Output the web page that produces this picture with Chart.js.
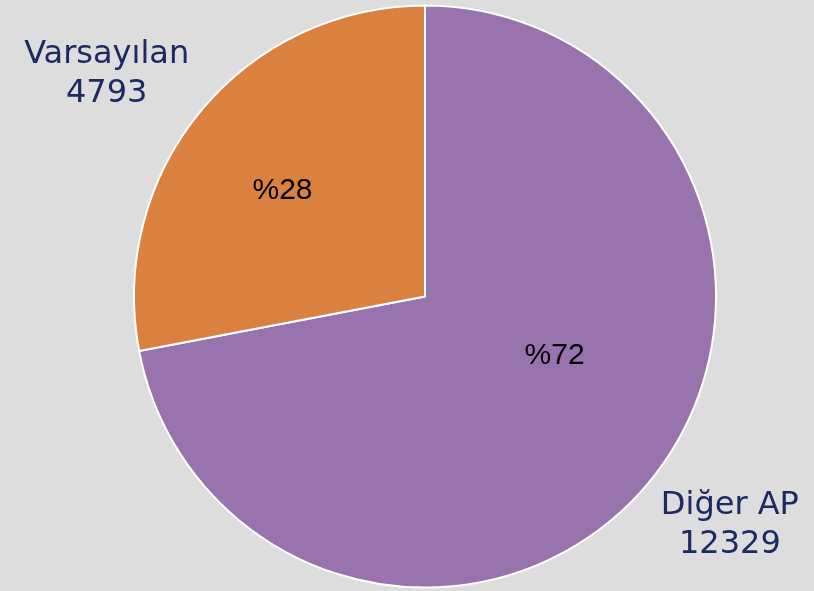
<!DOCTYPE html>
<html>
<head>
<meta charset="utf-8">
<script src="https://cdn.jsdelivr.net/npm/chart.js@4.4.1/dist/chart.umd.min.js"></script>
<style>
  html, body { margin: 0; padding: 0; background: #dddddd; }
  #wrap { width: 814px; height: 591px; position: relative; }
</style>
</head>
<body>
<div id="wrap"><canvas id="pie"></canvas></div>
<script>
const labels = ['Diğer AP', 'Varsayılan'];
const values = [12329, 4793];
const colors = ['#9873ae', '#db8140'];

// where the texts sit, relative to slice mid-angle and radius
const outerPos = [{ kx: 1.36, ky: 1.235, da: 0 }, { kx: 1.42, ky: 1.2, da: 0 }];
const innerPos = [{ k: 0.49, da: -15 }, { k: 0.61, da: -3 }];

const sliceText = {
  id: 'sliceText',
  afterDraw(chart) {
    const ctx = chart.ctx;
    const meta = chart.getDatasetMeta(0);
    const total = values.reduce((a, b) => a + b, 0);
    meta.data.forEach((arc, i) => {
      const { x, y, startAngle, endAngle, outerRadius } = arc.getProps(['x', 'y', 'startAngle', 'endAngle', 'outerRadius'], true);
      const mid = (startAngle + endAngle) / 2;
      ctx.save();
      ctx.textAlign = 'center';
      ctx.textBaseline = 'middle';

      // percent inside
      const ip = innerPos[i];
      const a1 = mid + ip.da * Math.PI / 180;
      ctx.fillStyle = '#000000';
      ctx.font = '30px "Liberation Sans", Arial, sans-serif';
      ctx.fillText('%' + Math.round(values[i] / total * 100),
        x + Math.cos(a1) * outerRadius * ip.k,
        y + Math.sin(a1) * outerRadius * ip.k);

      // name + value outside
      const op = outerPos[i];
      const a2 = mid + op.da * Math.PI / 180;
      const lx = x + Math.cos(a2) * outerRadius * op.kx;
      const ly = y + Math.sin(a2) * outerRadius * op.ky;
      ctx.fillStyle = '#1b2a63';
      ctx.font = '32px "DejaVu Sans", Verdana, sans-serif';
      ctx.fillText(labels[i], lx, ly - 19.5);
      ctx.fillText(String(values[i]), lx, ly + 19.5);
      ctx.restore();
    });
  }
};

new Chart(document.getElementById('pie'), {
  type: 'pie',
  data: {
    labels,
    datasets: [{
      data: values,
      backgroundColor: colors,
      borderColor: '#ffffff',
      borderWidth: 2,
    }],
  },
  options: {
    responsive: true,
    maintainAspectRatio: false,
    animation: false,
    layout: { padding: { left: 133, right: 97, top: 4, bottom: 2 } },
    plugins: {
      legend: { display: false },
      tooltip: { enabled: false },
    },
  },
  plugins: [sliceText],
});
</script>
</body>
</html>
